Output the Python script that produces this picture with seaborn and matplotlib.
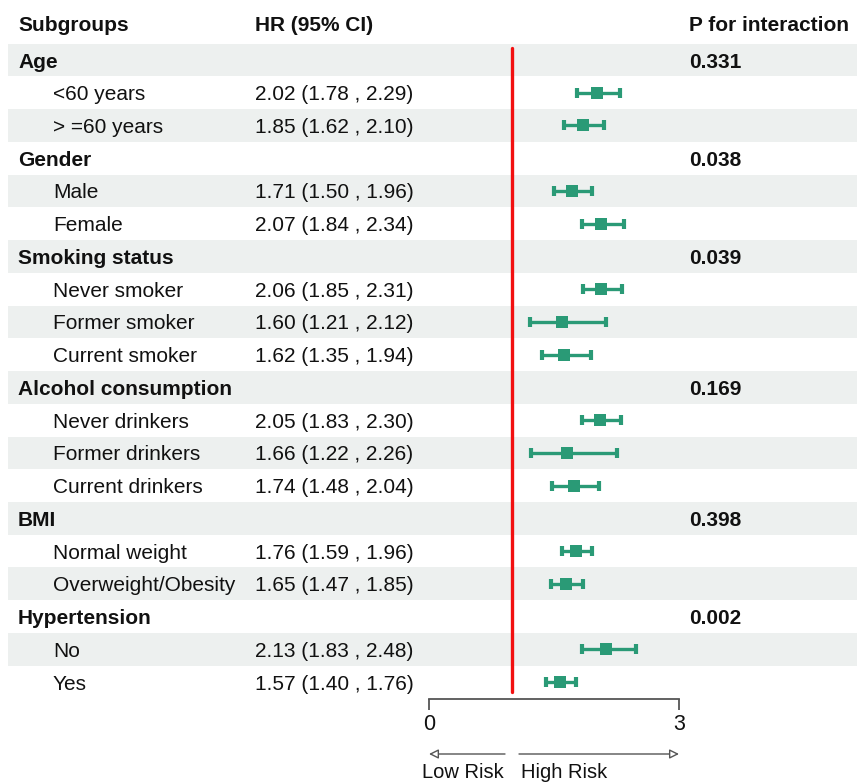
import numpy as np
import pandas as pd
import seaborn as sns
import matplotlib.pyplot as plt

sns.set_style('white')
plt.rcParams['font.family'] = ['Liberation Sans', 'DejaVu Sans']

# data
groups = ['Age', 'Gender', 'Smoking status', 'Alcohol consumption', 'BMI', 'Hypertension']
p_inter = ['0.331', '0.038', '0.039', '0.169', '0.398', '0.002']
items = [['<60 years', '> =60 years'],
         ['Male', 'Female'],
         ['Never smoker', 'Former smoker', 'Current smoker'],
         ['Never drinkers', 'Former drinkers', 'Current drinkers'],
         ['Normal weight', 'Overweight/Obesity'],
         ['No', 'Yes']]
hr = [2.02, 1.85, 1.71, 2.07, 2.06, 1.60, 1.62, 2.05, 1.66, 1.74, 1.76, 1.65, 2.13, 1.57]
lo = [1.78, 1.62, 1.50, 1.84, 1.85, 1.21, 1.35, 1.83, 1.22, 1.48, 1.59, 1.47, 1.83, 1.40]
hi = [2.29, 2.10, 1.96, 2.34, 2.31, 2.12, 1.94, 2.30, 2.26, 2.04, 1.96, 1.85, 2.48, 1.76]

# build row table
rows = []
k = 0
for g, p, subs in zip(groups, p_inter, items):
    rows.append(dict(label=g, group=True, p=p, hr=np.nan, lo=np.nan, hi=np.nan))
    for s in subs:
        rows.append(dict(label=s, group=False, p='', hr=hr[k], lo=lo[k], hi=hi[k]))
        k += 1
df = pd.DataFrame(rows)
df['row'] = np.arange(1, len(df) + 1)
sub = df[~df['group']]

GREEN = '#2a9a76'
FS = 15
TXT = '#111111'
PX = 250 / 3  # pixels per unit on the HR scale


def px(x):
    return (x - 429) / PX


def py(y):
    return 1 + (y - 60) / 32.74


fig = plt.figure(figsize=(8.57, 7.82), dpi=100)
ax = fig.add_axes([0, 0, 1, 1])
ax.set_xlim(px(0), px(857))
ax.set_ylim(py(782), py(0))
ax.axis('off')

# zebra bands
for r in df['row']:
    if r % 2 == 1:
        ax.axhspan(r - 0.5, r + 0.5, xmin=8 / 857, xmax=1, color='#edf0ef', lw=0, zorder=0)

# reference line
ax.plot([1, 1], [py(48), py(692)], color='#f21010', lw=2.4, zorder=2)

# CIs and points
ax.errorbar(sub['hr'], sub['row'], xerr=[sub['hr'] - sub['lo'], sub['hi'] - sub['hr']],
            fmt='none', ecolor=GREEN, elinewidth=2.4, capsize=3.8, capthick=3, zorder=3)
sns.scatterplot(data=sub, x='hr', y='row', marker='s', s=70, color=GREEN,
                edgecolor=GREEN, linewidth=0, ax=ax, zorder=4, legend=False)
ax.set_xlabel('')
ax.set_ylabel('')

# header
hy = py(23)
kw = dict(fontsize=FS, fontweight='bold', va='center_baseline', color=TXT)
ax.text(px(18), hy, 'Subgroups', **kw)
ax.text(px(255), hy, 'HR (95% CI)', **kw)
ax.text(px(689), hy, 'P for interaction', **kw)

# table text
for _, r in df.iterrows():
    if r['group']:
        ax.text(px(18), r['row'], r['label'], **kw)
        ax.text(px(689), r['row'], r['p'], **kw)
    else:
        ax.text(px(53), r['row'], r['label'], fontsize=FS, va='center_baseline', color=TXT)
        ax.text(px(255), r['row'], f"{r['hr']:.2f} ({r['lo']:.2f} , {r['hi']:.2f})",
                fontsize=FS, va='center_baseline', color=TXT)

# scale axis
sax = fig.add_axes([429 / 857, 1 - 699 / 782, 250 / 857, 0.0001])
sax.set_xlim(0, 3)
sax.set_xticks([0, 3])
sax.set_yticks([])
for s in ['top', 'left', 'right']:
    sax.spines[s].set_visible(False)
sax.spines['bottom'].set_color('#555555')
sax.spines['bottom'].set_linewidth(1.3)
sax.tick_params(axis='x', length=8, width=1.3, color='#555555', labelsize=FS + 0.5,
                labelcolor=TXT, pad=3, direction='out', bottom=True)
sax.patch.set_visible(False)

# risk arrows
ay = py(754)
arrow = dict(arrowstyle='-|>', color='#555555', fc='white', lw=1, mutation_scale=14, shrinkA=0, shrinkB=0)
ax.annotate('', xy=(0, ay), xytext=(px(505), ay), arrowprops=arrow)
ax.annotate('', xy=(3, ay), xytext=(px(519), ay), arrowprops=arrow)
ax.text(px(504), py(771), 'Low Risk', fontsize=14.5, ha='right', va='center_baseline', color=TXT)
ax.text(px(521), py(771), 'High Risk', fontsize=14.5, ha='left', va='center_baseline', color=TXT)

plt.savefig('out.png', dpi=100)
